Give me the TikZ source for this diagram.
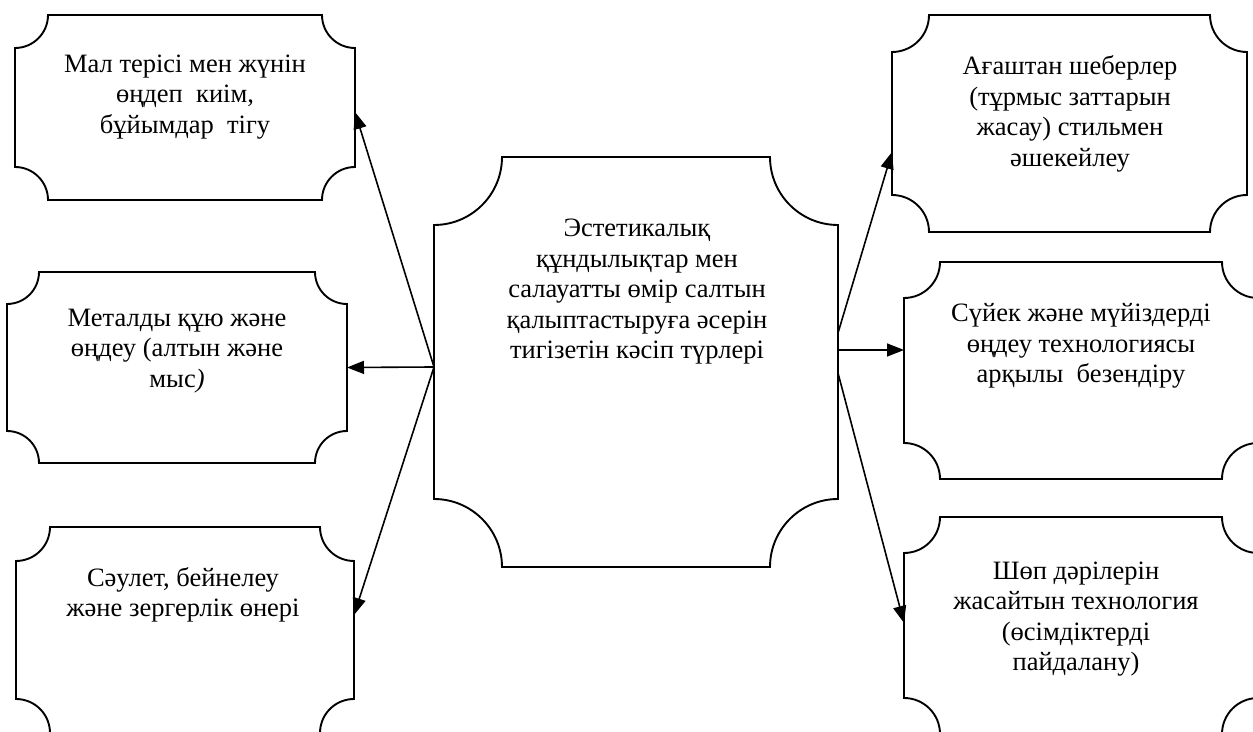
\documentclass[tikz,border=0pt]{standalone}
\usepackage{fontspec}
\setmainfont{Liberation Serif}
\usetikzlibrary{arrows.meta,calc}
\tikzset{
  box/.style={rectangle, inner sep=0pt, outer sep=0pt},
  plaqueline/.style={line width=1.9pt, line join=miter},
  txt/.style={align=center, inner sep=0pt, font=\fontsize{26.5}{30.5}\selectfont},
  arr/.style={line width=1.6pt, -{Triangle[length=17pt,width=13pt]}},
}
\begin{document}
\begin{tikzpicture}[x=1pt,y=1pt]
\useasboundingbox (0,0) rectangle (1253,731);
\clip (0,0) rectangle (1253,731);
% boxes
\node[box, minimum width=340pt, minimum height=185pt] (b1) at (185,623.5) {};
\node[box, minimum width=340pt, minimum height=191pt] (b2) at (177,363.5) {};
\node[box, minimum width=338pt, minimum height=206pt] (b3) at (185,101) {};
\node[box, minimum width=404pt, minimum height=410pt] (c)  at (636,369) {};
\node[box, minimum width=355pt, minimum height=217pt] (b4) at (1069.5,607.5) {};
\node[box, minimum width=354pt, minimum height=217pt] (b5) at (1081,360.5) {};
\node[box, minimum width=354pt, minimum height=217pt] (b6) at (1081,105.5) {};
\foreach \nm/\rad in {b1/33,b2/32,b3/34,c/68,b4/37,b5/36,b6/36}{
  \draw[plaqueline] let \p1=(\nm.south west), \p2=(\nm.north east) in
    (\x1+\rad pt,\y2) -- (\x2-\rad pt,\y2)
    arc[start angle=180,end angle=270,radius=\rad pt]
    -- (\x2,\y1+\rad pt)
    arc[start angle=90,end angle=180,radius=\rad pt]
    -- (\x1+\rad pt,\y1)
    arc[start angle=0,end angle=90,radius=\rad pt]
    -- (\x1,\y2-\rad pt)
    arc[start angle=270,end angle=360,radius=\rad pt]
    -- cycle;
}
% texts
\node[txt] (t1) at (185,634) {Мал терісі мен жүнін\\өңдеп\ \ киім,\\бұйымдар\ \ тігу};
\node[txt] (t2) at (177,380) {Металды құю және\\өңдеу (алтын және\\мыс\textit{)}};
\node[txt] (t3) at (183,136) {Сәулет, бейнелеу\\және зергерлік өнері};
\node[txt] (tc) at (637,439) {Эстетикалық\\құндылықтар мен\\салауатты өмір салтын\\қалыптастыруға әсерін\\тигізетін кәсіп түрлері};
\node[txt] (t4) at (1070,617) {Ағаштан шеберлер\\(тұрмыс заттарын\\жасау) стильмен\\әшекейлеу};
\node[txt] (t5) at (1081,385) {Сүйек және мүйіздерді\\өңдеу технологиясы\\арқылы\ \ безендіру};
\node[txt] (t6) at (1076,112) {Шөп дәрілерін\\жасайтын технология\\(өсімдіктерді\\пайдалану)};
% connector end points
\coordinate (cl) at ($(c.west)+(0,-5)$);
\coordinate (cr1) at ($(c.east)+(0,29)$);
\coordinate (cr2) at ($(c.east)+(0,12)$);
\coordinate (cr3) at ($(c.east)+(0,-11)$);
\coordinate (e1) at ($(b1.east)+(0,-4.5)$);
\coordinate (e3) at ($(b3.east)+(0,15)$);
\coordinate (w4) at ($(b4.west)+(0,-28.5)$);
\coordinate (w5) at ($(b5.west)+(0,20.5)$);
\coordinate (w6) at ($(b6.west)+(0,2.5)$);
% connectors
\draw[arr] (cl) -- (e1);
\draw[arr] (cl) -- (b2.east);
\draw[arr] (cl) -- (e3);
\draw[arr] (cr1) -- (w4);
\draw[arr] (cr2) -- (w5);
\draw[arr] (cr3) -- (w6);
\end{tikzpicture}
\end{document}
